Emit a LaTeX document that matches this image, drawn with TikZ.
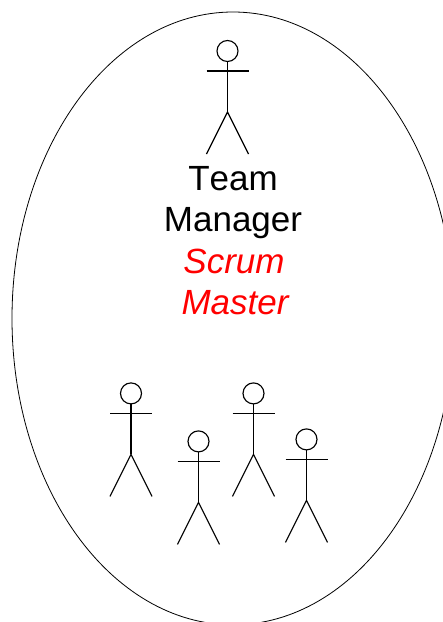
\documentclass[tikz,border=0pt]{standalone}
\usepackage{fontspec}
\setmainfont{Liberation Sans}
\tikzset{
  px/.style={x=1pt,y=-1pt},
  figline/.style={line width=1.15pt,black},
  lbl/.style={font=\fontsize{35}{40}\selectfont,align=center,inner sep=0pt,anchor=base},
  man/.pic={
    \draw[figline] (0,0) circle (10.5);
    \draw[figline] (0,10.5) -- (0,61);
    \draw[figline] (-21,20) -- (21,20);
    \draw[figline] (-21,103) -- (0,61) -- (21,103);
  }
}
\begin{document}
\begin{tikzpicture}[px]
\useasboundingbox (0,0) rectangle (443,622);
\clip (0,0) rectangle (443,622);
\draw[line width=0.8pt] (233,318.4) ellipse [x radius=221, y radius=306.4];
\pic at (227.5,51) {man};
\pic at (131,393.4) {man};
\pic at (198.5,441.4) {man};
\pic at (253.5,393.4) {man};
\pic at (306.5,439.4) {man};
\node[lbl] (t1) at (233,190) {\addfontfeature{Kerning=Off}Team};
\node[lbl] (t2) at (233,231) {Manager};
\node[lbl,red] (t3) at (234,273) {\itshape Scrum};
\node[lbl,red] (t4) at (235,314) {\itshape Master};
\end{tikzpicture}
\end{document}
